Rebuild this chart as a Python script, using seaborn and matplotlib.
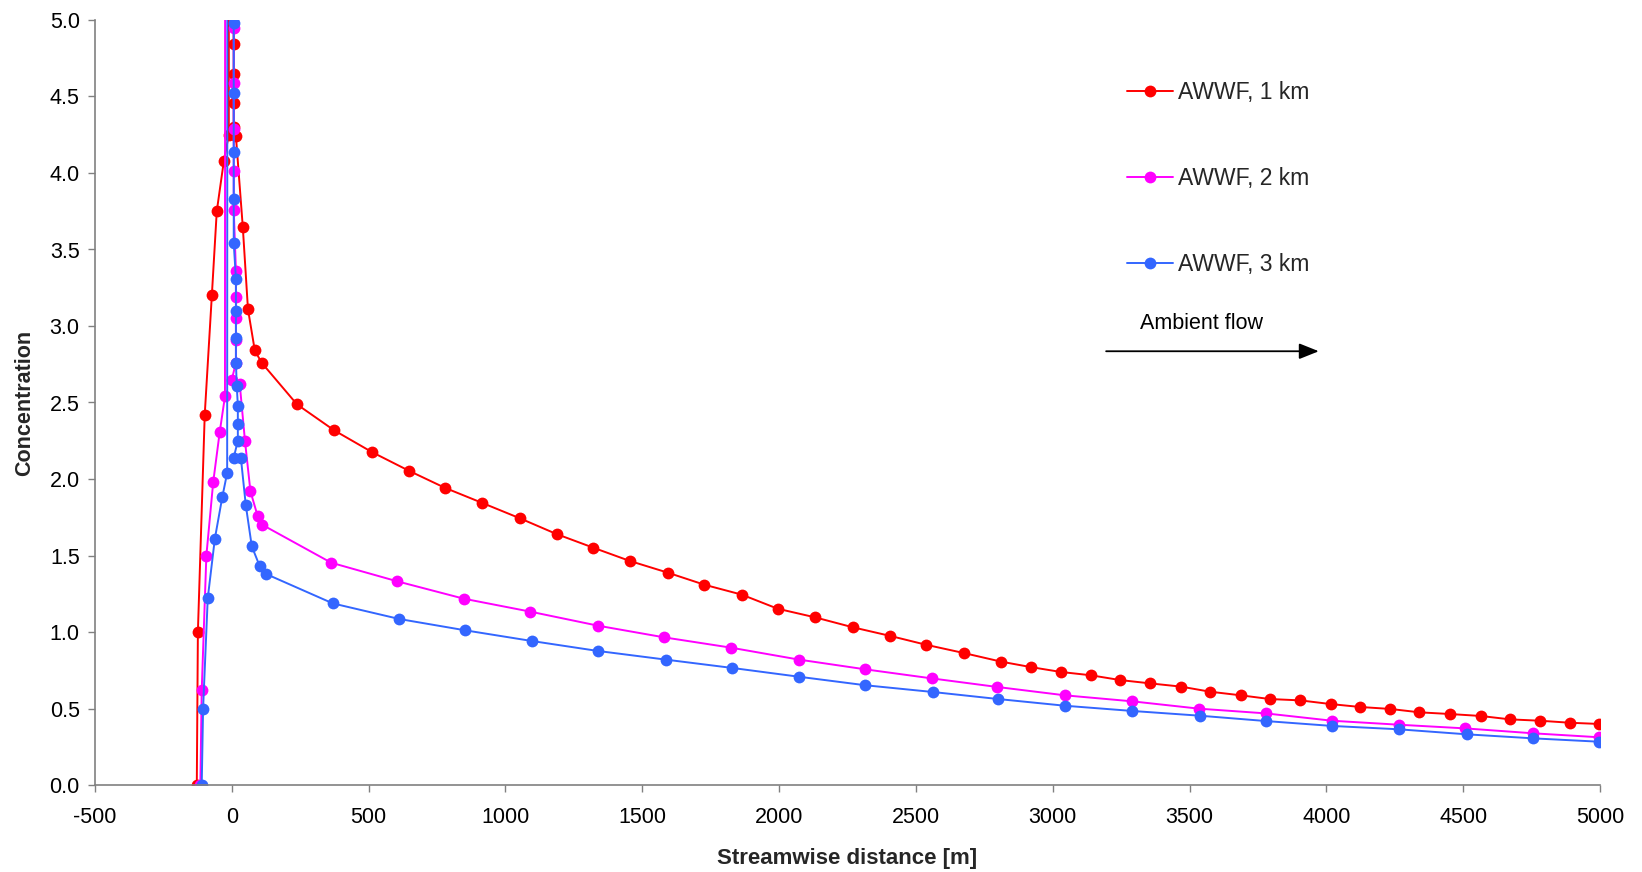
import numpy as np
import pandas as pd
import matplotlib
matplotlib.use("Agg")
import matplotlib.pyplot as plt
from matplotlib import font_manager
import seaborn as sns

# ---------------- data ----------------
series_names = ["AWWF, 1 km", "AWWF, 2 km", "AWWF, 3 km"]

x_1km = [-128, -124, -99, -73, -55, -29, -11, -13, 7, 7, 7, 7, 15, 40, 59, 84, 109,
         238, 374, 512, 647, 778, 916, 1053, 1187, 1321, 1455, 1593, 1727, 1864, 1995,
         2131, 2269, 2407, 2536, 2674, 2812, 2919, 3029, 3140, 3246, 3357, 3469, 3574,
         3688, 3793, 3905, 4016, 4123, 4234, 4340, 4451, 4565, 4671, 4782, 4889, 4996]
y_1km = [0.0, 1.0, 2.42, 3.20, 3.75, 4.08, 4.25, 40.0, 4.84, 4.65, 4.46, 4.30, 4.24, 3.65, 3.11, 2.84, 2.76,
         2.488, 2.318, 2.176, 2.054, 1.943, 1.843, 1.743, 1.640, 1.551, 1.464, 1.388, 1.309, 1.244, 1.152,
         1.096, 1.031, 0.974, 0.917, 0.863, 0.806, 0.771, 0.739, 0.717, 0.686, 0.664, 0.643, 0.610,
         0.586, 0.562, 0.553, 0.529, 0.510, 0.497, 0.475, 0.464, 0.451, 0.429, 0.420, 0.407, 0.399]

x_2km = [-115, -110, -93, -68, -44, -25, -18, 7, 7, 7, 7, 7, 15, 15, 15, 15, 15, 0, 29, 48, 68, 94, 112,
         363, 605, 847, 1091, 1339, 1580, 1823, 2071, 2315, 2557, 2796, 3045, 3290, 3534, 3779,
         4021, 4265, 4507, 4755, 4996]
y_2km = [0.0, 0.62, 1.50, 1.98, 2.31, 2.54, 40.0, 4.95, 4.59, 4.29, 4.01, 3.76, 3.36, 3.19, 3.05, 2.91, 2.76,
         2.65, 2.62, 2.25, 1.92, 1.76, 1.70,
         1.453, 1.331, 1.218, 1.133, 1.041, 0.965, 0.898, 0.820, 0.756, 0.697, 0.641, 0.586, 0.547,
         0.499, 0.468, 0.420, 0.394, 0.370, 0.338, 0.312]

x_3km = [-110, -105, -88, -62, -35, -17, -10, 7, 7, 7, 7, 7, 15, 15, 15, 15, 18, 22, 22, 22, 7, 33, 51, 73,
         102, 124, 369, 612, 853, 1097, 1338, 1588, 1829, 2071, 2315, 2561, 2800, 3045, 3290, 3537,
         3779, 4021, 4265, 4515, 4755, 4996]
y_3km = [0.0, 0.50, 1.22, 1.61, 1.88, 2.04, 40.0, 4.98, 4.52, 4.14, 3.83, 3.54, 3.31, 3.10, 2.92, 2.76, 2.61,
         2.48, 2.36, 2.25, 2.14, 2.14, 1.83, 1.56, 1.43, 1.38,
         1.187, 1.085, 1.011, 0.941, 0.876, 0.819, 0.765, 0.708, 0.652, 0.608, 0.562, 0.518, 0.484,
         0.453, 0.418, 0.386, 0.364, 0.331, 0.305, 0.283]

x_ticks = list(range(-500, 5001, 500))
y_ticks = [0.0, 0.5, 1.0, 1.5, 2.0, 2.5, 3.0, 3.5, 4.0, 4.5, 5.0]
colors = ["#FF0000", "#FF00FF", "#3366FF"]

frames = []
for name, xs, ys in zip(series_names, [x_1km, x_2km, x_3km], [y_1km, y_2km, y_3km]):
    frames.append(pd.DataFrame({"x": xs, "y": ys, "series": name}))
df = pd.concat(frames, ignore_index=True)

# ---------------- plot ----------------
sns.set_theme(style="white")
plt.rcParams["font.family"] = ["Liberation Sans", "DejaVu Sans"]
plt.rcParams["axes.unicode_minus"] = False

available = {f.name for f in font_manager.fontManager.ttflist}
narrow = "Liberation Sans"
for cand in ["Liberation Sans Narrow", "DejaVu Sans Condensed"]:
    if cand in available:
        narrow = cand
        break

fig = plt.figure(figsize=(16.42, 8.72), dpi=100)
ax = fig.add_axes([95 / 1642, 1 - 785 / 872, 1505 / 1642, 765 / 872])

sns.lineplot(data=df, x="x", y="y", hue="series", hue_order=series_names,
             palette=colors, sort=False, estimator=None, units="series",
             marker="o", markersize=8.5, markeredgewidth=0, linewidth=1.4,
             legend=False, ax=ax)

ax.set_xlim(-500, 5000)
ax.set_ylim(0, 5.0)
ax.set_xticks(x_ticks)
ax.set_yticks(y_ticks)
ax.set_yticklabels([f"{v:.1f}" for v in y_ticks])
ax.set_xticklabels([str(v) for v in x_ticks])
ax.tick_params(axis="both", which="both", direction="out", length=5, width=1,
               color="#808080", labelsize=15.5, labelcolor="black", pad=6,
               left=True, bottom=True)
ax.tick_params(axis="x", pad=11)
for s in ["top", "right"]:
    ax.spines[s].set_visible(False)
for s in ["left", "bottom"]:
    ax.spines[s].set_color("#808080")
    ax.spines[s].set_linewidth(1.2)

ax.set_xlabel("Streamwise distance [m]", fontsize=16, fontweight="bold", labelpad=14)
ax.set_ylabel("Concentration", fontsize=15.5, fontweight="bold", labelpad=10,
              family=[narrow, "DejaVu Sans"])

# legend
handles = ax.get_lines()[:3]
leg = ax.legend(handles, series_names, loc="center left",
                bbox_to_anchor=(0.686, 0.793), frameon=False, fontsize=16.5,
                handlelength=2.0, handletextpad=0.2, labelspacing=2.75,
                borderpad=0, borderaxespad=0)

# ambient flow arrow
ax.annotate("", xy=(0.815, 0.567), xytext=(0.670, 0.567), xycoords="axes fraction",
            arrowprops=dict(arrowstyle="-|>,head_length=1.0,head_width=0.4", color="black", lw=1.3))
ax.text(0.7355, 0.603, "Ambient flow", transform=ax.transAxes, fontsize=15.5,
        ha="center", va="center", color="black")

fig.savefig("out.png", dpi=100, facecolor="white")
